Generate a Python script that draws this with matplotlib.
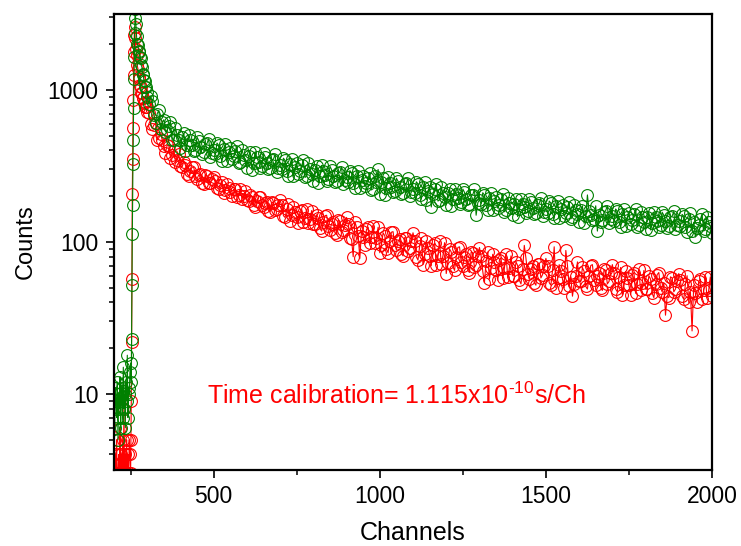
import numpy as np
import matplotlib
matplotlib.use('Agg')
import matplotlib.pyplot as plt
from matplotlib.ticker import FixedLocator, LogLocator, NullFormatter

plt.rcParams['font.family'] = ['Liberation Sans', 'DejaVu Sans']
plt.rcParams['mathtext.fontset'] = 'custom'
plt.rcParams['mathtext.rm'] = 'Liberation Sans'
plt.rcParams['mathtext.it'] = 'Liberation Sans:italic'

# channels: baseline every 2, rise every 1, early decay every 2, tail every 5
ch_base = np.arange(200, 251, 2)
ch_green_rise = np.arange(252, 264, 1)
ch_red_rise = np.arange(251, 263, 1)
ch_peak = np.arange(264, 299, 2)
ch_tail_a = np.arange(300, 2001, 10)
ch_tail_b = np.arange(305, 2000, 10)

green_base = [8, 6, 11, 9, 7, 12, 5, 10, 8, 13, 6, 9, 11, 7, 15, 8, 10, 6, 12, 9,
              18, 7, 11, 10, 14, 16]
green_rise = [12, 23, 52, 113, 175, 326, 469, 762, 1180, 1650, 2370, 2980]
green_peak = [3400, 2700, 2250, 2000, 1980, 1800, 1780, 1640, 1620, 1450, 1420, 1280,
              1250, 1160, 1140, 1050, 1040, 970]
# channels 300, 310, ... 2000
green_tail_a = [
    900, 907, 684, 698, 550, 637, 543, 615, 469, 508,
    416, 518, 436, 466, 397, 490, 424, 388, 445, 365,
    405, 448, 367, 411, 340, 413, 366, 429, 335, 371,
    309, 391, 333, 360, 308, 383, 332, 305, 351, 289,
    321, 356, 292, 327, 271, 330, 294, 345, 271, 301,
    251, 318, 273, 295, 253, 315, 273, 252, 290, 239,
    266, 295, 243, 271, 225, 273, 243, 285, 224, 249,
    208, 265, 227, 246, 212, 263, 229, 211, 243, 200,
    224, 249, 205, 229, 190, 231, 206, 242, 189, 210,
    175, 223, 191, 208, 178, 223, 193, 178, 205, 150,
    190, 211, 174, 194, 162, 197, 176, 206, 162, 180,
    151, 191, 164, 179, 155, 193, 168, 155, 180, 149,
    166, 186, 153, 172, 143, 175, 156, 184, 146, 162,
    136, 173, 148, 161, 139, 173, 150, 139, 161, 133,
    148, 165, 136, 152, 128, 156, 139, 164, 129, 145,
    122, 155, 134, 146, 126, 157, 138, 127, 148, 122,
    137, 152, 126, 142, 119, 108, 130, 153, 121, 135,
    114]
# channels 305, 315, ... 1995
green_tail_b = [
    804, 842, 609, 735, 613, 529, 580, 467, 562, 471,
    491, 395, 507, 435, 406, 465, 382, 440, 479, 387,
    378, 433, 342, 442, 388, 349, 398, 329, 406, 347,
    368, 299, 390, 337, 316, 364, 300, 347, 378, 307,
    300, 344, 271, 352, 310, 280, 319, 266, 329, 281,
    299, 245, 319, 276, 260, 299, 248, 286, 312, 254,
    248, 286, 225, 293, 257, 232, 264, 220, 272, 300,
    248, 204, 267, 231, 218, 251, 207, 239, 262, 213,
    210, 241, 191, 247, 217, 170, 224, 186, 230, 197,
    209, 172, 224, 195, 183, 212, 175, 203, 222, 181,
    178, 204, 162, 210, 185, 167, 191, 158, 196, 168,
    179, 147, 193, 169, 159, 184, 152, 176, 194, 158,
    156, 180, 143, 186, 164, 148, 170, 142, 176, 152,
    162, 133, 204, 151, 142, 118, 136, 158, 173, 141,
    138, 159, 126, 165, 145, 132, 152, 126, 158, 136,
    145, 120, 157, 137, 129, 150, 124, 145, 159, 130,
    128, 148, 117, 154, 135, 123, 141, 118, 147, 127]

red_base = [3, 2, 4, 3, 5, 2, 3, 4, 2, 6, 3, 4, 2, 5, 3, 8, 2, 4, 3, 5,
            2, 4, 3, 5, 4, 3]
red_rise = [5, 9, 22, 57, 207, 351, 562, 860, 1255, 1780, 2300, 2600]
red_peak = [2200, 1850, 1700, 1450, 1380, 1220, 1190, 1060, 1050, 950, 960, 880,
            890, 820, 830, 770, 775, 720]
red_tail_a = [
    777, 595, 589, 470, 516, 427, 434, 359, 405, 347,
    318, 338, 282, 292, 310, 260, 279, 240, 273, 246,
    268, 228, 238, 211, 239, 213, 223, 197, 222, 200,
    188, 205, 176, 186, 199, 169, 183, 158, 181, 165,
    188, 149, 164, 138, 170, 146, 159, 135, 164, 142,
    132, 151, 123, 135, 150, 120, 136, 112, 137, 120,
    145, 107, 80, 125, 78, 108, 121, 98, 128, 106,
    85, 115, 90, 102, 117, 89, 105, 81, 106, 91,
    115, 80, 94, 71, 102, 81, 95, 71, 101, 81,
    62, 90, 69, 80, 93, 69, 83, 63, 85, 71,
    92, 64, 75, 57, 83, 65, 76, 58, 83, 67,
    60, 74, 56, 66, 78, 57, 70, 52, 72, 61,
    78, 54, 65, 50, 71, 57, 88, 51, 44, 60,
    55, 68, 51, 60, 71, 52, 63, 48, 65, 55,
    71, 49, 59, 45, 64, 52, 61, 46, 66, 54,
    49, 60, 46, 53, 63, 47, 33, 43, 58, 49,
    62, 44, 53, 40, 26, 46, 55, 42, 59, 48,
    44]
red_tail_b = [
    704, 558, 604, 485, 471, 387, 430, 373, 336, 378,
    311, 321, 270, 311, 273, 276, 246, 278, 244, 259,
    253, 222, 250, 221, 226, 200, 224, 205, 193, 217,
    186, 198, 170, 199, 176, 180, 161, 183, 162, 174,
    174, 145, 177, 150, 158, 134, 163, 144, 134, 161,
    131, 144, 118, 149, 127, 132, 115, 139, 117, 130,
    132, 104, 136, 110, 119, 96, 125, 108, 98, 125,
    96, 110, 85, 116, 96, 101, 84, 107, 87, 101,
    102, 76, 107, 83, 92, 70, 98, 81, 72, 99,
    73, 86, 65, 92, 74, 80, 65, 86, 68, 81,
    81, 54, 86, 67, 74, 56, 79, 67, 59, 81,
    60, 70, 53, 95, 62, 66, 54, 72, 58, 69,
    69, 52, 93, 58, 64, 50, 70, 59, 53, 74,
    55, 64, 49, 70, 56, 60, 50, 66, 53, 63,
    63, 47, 68, 52, 58, 45, 63, 53, 48, 65,
    49, 57, 43, 61, 50, 54, 44, 59, 47, 55,
    56, 42, 60, 47, 52, 40, 57, 48, 43, 59]

# merge the two interleaved tail samplings in channel order
ch_tail = np.concatenate([ch_tail_a, ch_tail_b])
order = np.argsort(ch_tail)
green_tail = np.array(green_tail_a + green_tail_b)[order]
red_tail = np.array(red_tail_a + red_tail_b)[order]

ch_green = np.concatenate([ch_base, ch_green_rise, ch_peak, ch_tail[order]])
ch_red = np.concatenate([ch_base, ch_red_rise, ch_peak, ch_tail[order]])
green_counts = np.concatenate([green_base, green_rise, green_peak, green_tail])
red_counts = np.concatenate([red_base, red_rise, red_peak, red_tail])

fig = plt.figure(figsize=(7.41, 5.46), dpi=100)
ax = fig.add_axes([114 / 741, 1 - 470 / 546, 598 / 741, 456 / 546])

ax.plot(ch_red, red_counts, color='#ff0000', lw=0.8, marker='o', ms=8.5,
        mfc='none', mec='#ff0000', mew=0.8)
ax.plot(ch_green, green_counts, color='#008000', lw=0.8, marker='o', ms=8.5,
        mfc='none', mec='#008000', mew=0.8)

ax.set_yscale('log')
ax.set_xlim(200, 2000)
ax.set_ylim(10 ** 0.5, 10 ** 3.5)

ax.xaxis.set_major_locator(FixedLocator([500, 1000, 1500, 2000]))
ax.xaxis.set_minor_locator(FixedLocator([250, 750, 1250, 1750]))
ax.yaxis.set_major_locator(FixedLocator([10, 100, 1000]))
ax.yaxis.set_minor_locator(LogLocator(base=10, subs=np.arange(2, 10)))
ax.yaxis.set_minor_formatter(NullFormatter())
ax.set_yticklabels(['10', '100', '1000'])

for s in ax.spines.values():
    s.set_linewidth(1.6)
ax.tick_params(which='major', direction='out', length=6, width=1.2,
               labelsize=16.5, pad=5, top=False, right=False)
ax.tick_params(which='minor', direction='out', length=3.5, width=1.1,
               top=False, right=False)

ax.set_xlabel('Channels', fontsize=18, labelpad=9)
ax.set_ylabel('Counts', fontsize=17, labelpad=8)

ax.text(480, 8.6, r'Time calibration= 1.115x10$^{\text{-10}}$s/Ch',
        color='#ff0000', fontsize=18, ha='left', va='baseline')

fig.savefig('out.png', dpi=100)
